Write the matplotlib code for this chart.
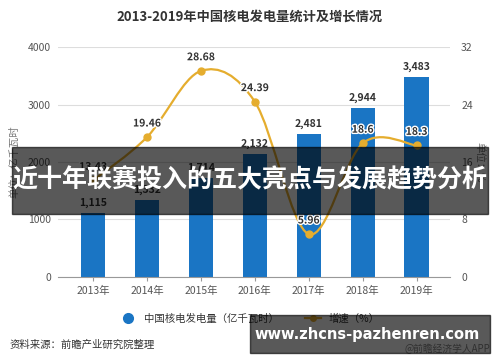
import numpy as np
import matplotlib
matplotlib.use("Agg")
import matplotlib.pyplot as plt
from matplotlib.path import Path
from matplotlib.patches import PathPatch, Rectangle
from matplotlib.lines import Line2D
import matplotlib.patheffects as pe

plt.rcParams['font.family'] = ['Noto Sans CJK SC', 'DejaVu Sans']

# data
years = ['2013年', '2014年', '2015年', '2016年', '2017年', '2018年', '2019年']
power = [1115, 1332, 1714, 2132, 2481, 2944, 3483]
growth = [13.43, 19.46, 28.68, 24.39, 5.96, 18.6, 18.3]
growth_labels = ['13.43', '19.46', '28.68', '24.39', '5.96', '18.6', '18.3']

blue = '#1a75c4'
gold = '#e5ad2e'

fig = plt.figure(figsize=(5, 3.62), dpi=100)
ax = fig.add_axes([0.116, 0.235, 0.784, 0.635])
x = np.arange(len(years))

ax.bar(x, power, width=0.45, color=blue, zorder=2)
for xi, v in zip(x, power):
    ax.text(xi, v + 90, f'{v:,}', ha='center', va='bottom', fontsize=7.5,
            color='#333333', fontweight='bold')

ax.set_xlim(-0.65, 6.62)
ax.set_ylim(0, 4000)
ax.set_yticks([0, 1000, 2000, 3000, 4000])
ax.set_xticks(x)
ax.set_xticklabels(years)
ax.grid(axis='y', color='#dddddd', lw=0.8, zorder=0)
for s in ['top', 'right', 'left']:
    ax.spines[s].set_visible(False)
ax.spines['bottom'].set_color('#999999')
ax.tick_params(axis='y', length=0, labelsize=7.5, labelcolor='#555555', pad=5)
ax.tick_params(axis='x', length=3, color='#999999', labelsize=7.5, labelcolor='#555555')
ax.set_ylabel('单位：亿千瓦时', fontsize=7.5, color='#777777', labelpad=6)

ax2 = ax.twinx()
ax2.set_ylim(0, 32)
ax2.set_yticks([0, 8, 16, 24, 32])
for s in ax2.spines.values():
    s.set_visible(False)
ax2.tick_params(axis='y', length=0, labelsize=7.5, labelcolor='#555555', pad=8)
ax2.set_ylabel('单位：%', fontsize=7.5, color='#777777', rotation=270, labelpad=8)

# smooth curve through the growth points (Catmull-Rom as cubic Bezier)
pts = np.column_stack([x, growth]).astype(float)
verts = [tuple(pts[0])]
codes = [Path.MOVETO]
for i in range(len(pts) - 1):
    p0 = pts[max(i - 1, 0)]
    p1 = pts[i]
    p2 = pts[i + 1]
    p3 = pts[min(i + 2, len(pts) - 1)]
    c1 = p1 + (p2 - p0) / 6
    c2 = p2 - (p3 - p1) / 6
    verts += [tuple(c1), tuple(c2), tuple(p2)]
    codes += [Path.CURVE4] * 3
ax2.add_patch(PathPatch(Path(verts, codes), fc='none', ec=gold, lw=1.6, zorder=3))
ax2.plot(x, growth, 'o', color=gold, ms=5, zorder=4)
for xi, v, t in zip(x, growth, growth_labels):
    ax2.text(xi, v + 1.2, t, ha='center', va='bottom', fontsize=7.5, color='#333333',
             fontweight='bold', zorder=5,
             path_effects=[pe.withStroke(linewidth=2, foreground='white')])

fig.text(0.5, 0.953, '2013-2019年中国核电发电量统计及增长情况', ha='center', va='center',
         fontsize=9.5, fontweight='bold', color='#333333')

handles = [Line2D([], [], marker='o', color=blue, ls='none', ms=7),
           Line2D([], [], marker='o', color=gold, lw=1.6, ms=4)]
fig.legend(handles, ['中国核电发电量（亿千瓦时）', '增速（%）'], loc='center',
           bbox_to_anchor=(0.5, 0.12), ncol=2, frameon=False, fontsize=7.5,
           handlelength=1.5, columnspacing=2.5, labelcolor='#333333')

fig.text(0.02, 0.047, '资料来源：前瞻产业研究院整理', fontsize=7.5, color='#333333', va='center')
fig.text(0.98, 0.035, '@前瞻经济学人APP', fontsize=7, color='#888888', ha='right', va='center')

# overlay banner and url box
fig.patches.append(Rectangle((0.024, 0.409), 0.952, 0.185, transform=fig.transFigure,
                             color='black', alpha=0.65, zorder=10))
fig.text(0.5, 0.501, '近十年联赛投入的五大亮点与发展趋势分析', ha='center', va='center',
         fontsize=18, fontweight='bold', color='white', zorder=11)
fig.patches.append(Rectangle((0.5, 0.025), 0.48, 0.105, transform=fig.transFigure,
                             color='black', alpha=0.65, zorder=10))
fig.text(0.735, 0.077, 'www.zhcns-pazhenren.com', ha='center', va='center',
         fontsize=10.5, fontweight='bold', color='white', family='DejaVu Sans', zorder=11)

fig.savefig('out.png', dpi=100)
